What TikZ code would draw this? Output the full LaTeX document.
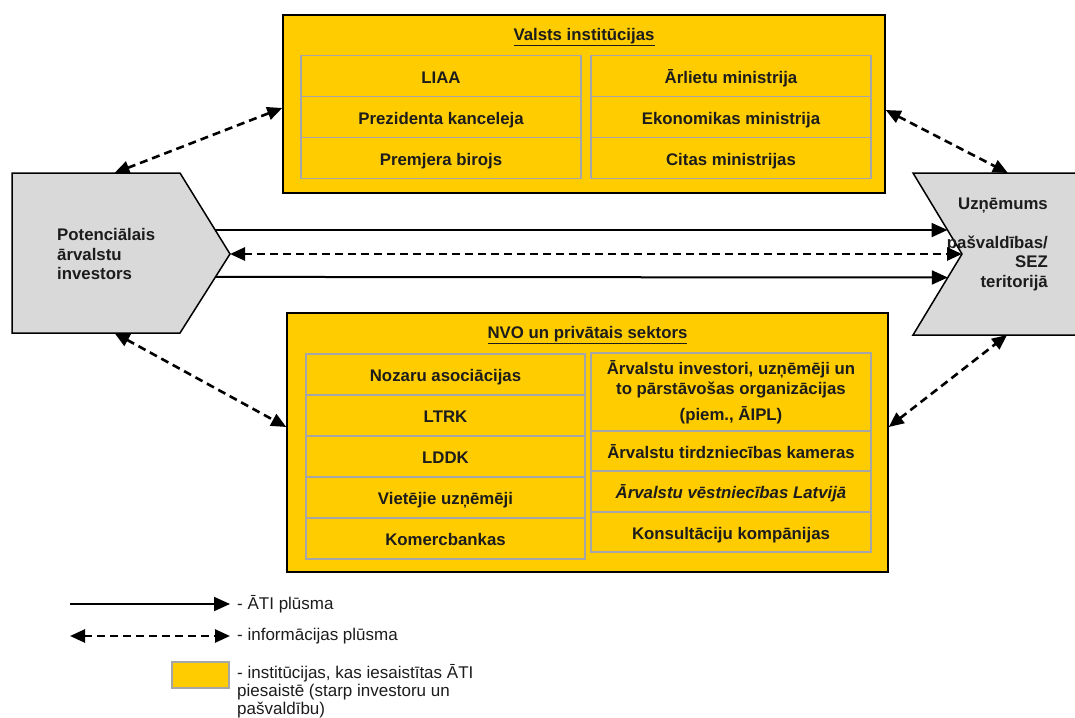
\documentclass[tikz,border=0pt]{standalone}
\usepackage{fontspec}
\setmainfont{Liberation Sans}
\usepackage{xcolor}
\usetikzlibrary{arrows.meta,calc}

\definecolor{atiyellow}{RGB}{255,204,0}
\definecolor{cellgray}{RGB}{166,166,166}
\definecolor{shapegray}{RGB}{217,217,217}
\definecolor{inkdark}{RGB}{28,28,28}

\begin{document}
\begin{tikzpicture}[x=1pt, y=-1pt, font=\fontsize{16.8}{19.5}\selectfont\bfseries, text=inkdark,
    groupbox/.style={draw=black, line width=1.5pt, fill=atiyellow, inner sep=0pt},
    cell/.style={draw=cellgray, line width=1.8pt, minimum width=280pt, minimum height=41pt, inner sep=0pt, align=center, text height=16pt, text depth=2pt},
    actor/.style={draw=black, line width=1.5pt, fill=shapegray, line join=miter},
    flow/.style={line width=2pt, -{Triangle[length=16pt,width=14pt]}},
    info/.style={line width=2.6pt, dash pattern=on 8pt off 5pt, {Triangle[length=15pt,width=13pt]}-{Triangle[length=15pt,width=13pt]}},
    legtext/.style={font=\fontsize{17}{18}\selectfont\mdseries, inner sep=0pt}]
    \useasboundingbox (0,0) rectangle (1075,717);
    \node[groupbox, minimum width=602pt, minimum height=178pt] (valsts) at (584,104) {};
    \node (valstsT) at (584,37) {\underline{Valsts institūcijas}};
	\node[cell] (liaa) at (441,76) {LIAA};
	\node[cell] (prez) at (441,117) {Prezidenta kanceleja};
	\node[cell] (prem) at (441,158) {Premjera birojs};
	\node[cell] (arlietu) at (731,76) {Ārlietu ministrija};
	\node[cell] (ekon) at (731,117) {Ekonomikas ministrija};
	\node[cell] (citas) at (731,158) {Citas ministrijas};
    \node[groupbox, minimum width=601pt, minimum height=259pt] (nvo) at (587.5,442.5) {};
    \node (nvoT) at (587.5,335) {\underline{NVO un privātais sektors}};
	\node[cell, minimum width=279pt] (nozaru) at (445.5,374.5) {Nozaru asociācijas};
	\node[cell, minimum width=279pt] (ltrk) at (445.5,415.5) {LTRK};
	\node[cell, minimum width=279pt] (lddk) at (445.5,456.5) {LDDK};
	\node[cell, minimum width=279pt] (vietejie) at (445.5,497.5) {Vietējie uzņēmēji};
	\node[cell, minimum width=279pt] (komerc) at (445.5,538.5) {Komercbankas};
	\node[cell, minimum height=78pt, text height=, text depth=] (arvinv) at (731,392) {Ārvalstu investori, uzņēmēji un\\to pārstāvošas organizācijas\\[6.5pt](piem., ĀIPL)};
	\node[cell, minimum height=40pt] (kameras) at (731,451) {Ārvalstu tirdzniecības kameras};
	\node[cell, minimum height=41pt] (vestn) at (731,491.5) {\itshape Ārvalstu vēstniecības Latvijā};
	\node[cell, minimum height=40pt] (konsult) at (731,532) {Konsultāciju kompānijas};
    \coordinate (invNW) at (12,173);
    \coordinate (invNE) at (180,173);
    \coordinate (invTip) at (230,254);
    \coordinate (invSE) at (180,333);
    \coordinate (invSW) at (12,333);
    \draw[actor] (invNW) -- (invNE) -- (invTip) -- (invSE) -- (invSW) -- cycle;
    \node[align=left, anchor=west, inner sep=0pt] (inv) at (57,254) {Potenciālais\\ārvalstu\\investors};
    \coordinate (uznNE) at (1078,173);
    \coordinate (uznNW) at (913,173);
    \coordinate (uznTip) at (962,254);
    \coordinate (uznSW) at (913,335);
    \coordinate (uznSE) at (1078,335);
    \draw[actor] (uznNE) -- (uznNW) -- (uznTip) -- (uznSW) -- (uznSE);
    \node[align=right, anchor=east, inner sep=0pt] (uzn) at (1048,244) {Uzņēmums\\[19.5pt]pašvaldības/\\SEZ\\teritorijā};
	\draw[flow] ($(invNE)!0.704!(invTip)$) -- ($(uznNW)!0.704!(uznTip)$);
	\draw[info] (invTip) -- (uznTip);
	\draw[flow] ($(invSE)!0.71!(invTip)$) -- ($(uznSW)!0.71!(uznTip)$);
	\draw[info] ($(invNW)!0.61!(invNE)$) -- ([yshift=-4pt]valsts.west);
	\draw[info] ([yshift=-6pt]valsts.east) -- ($(uznNW)!0.575!(uznNE)$);
	\draw[info] ($(invSW)!0.61!(invSE)$) -- ([yshift=15.5pt]nvo.west);
	\draw[info] ([yshift=15.5pt]nvo.east) -- ($(uznSW)!0.57!(uznSE)$);
    \coordinate (legS1) at (70,604);
    \coordinate (legS2) at (230,604);
    \coordinate (legD1) at (70,636);
    \coordinate (legD2) at (230,636);
	\draw[flow] (legS1) -- (legS2);
	\node[legtext, anchor=west] (legSt) at (237,604) {- ĀTI plūsma};
	\draw[info] (legD1) -- (legD2);
	\node[legtext, anchor=west] (legDt) at (237,636) {- informācijas plūsma};
	\node[draw=cellgray, line width=1.5pt, fill=atiyellow, minimum width=57pt, minimum height=26pt] (legBox) at (200.5,675) {};
	\node[legtext, anchor=north west, align=left] (legBt) at (237,664) {- institūcijas, kas iesaistītas ĀTI\\piesaistē (starp investoru un\\pašvaldību)};
\end{tikzpicture}
\end{document}
